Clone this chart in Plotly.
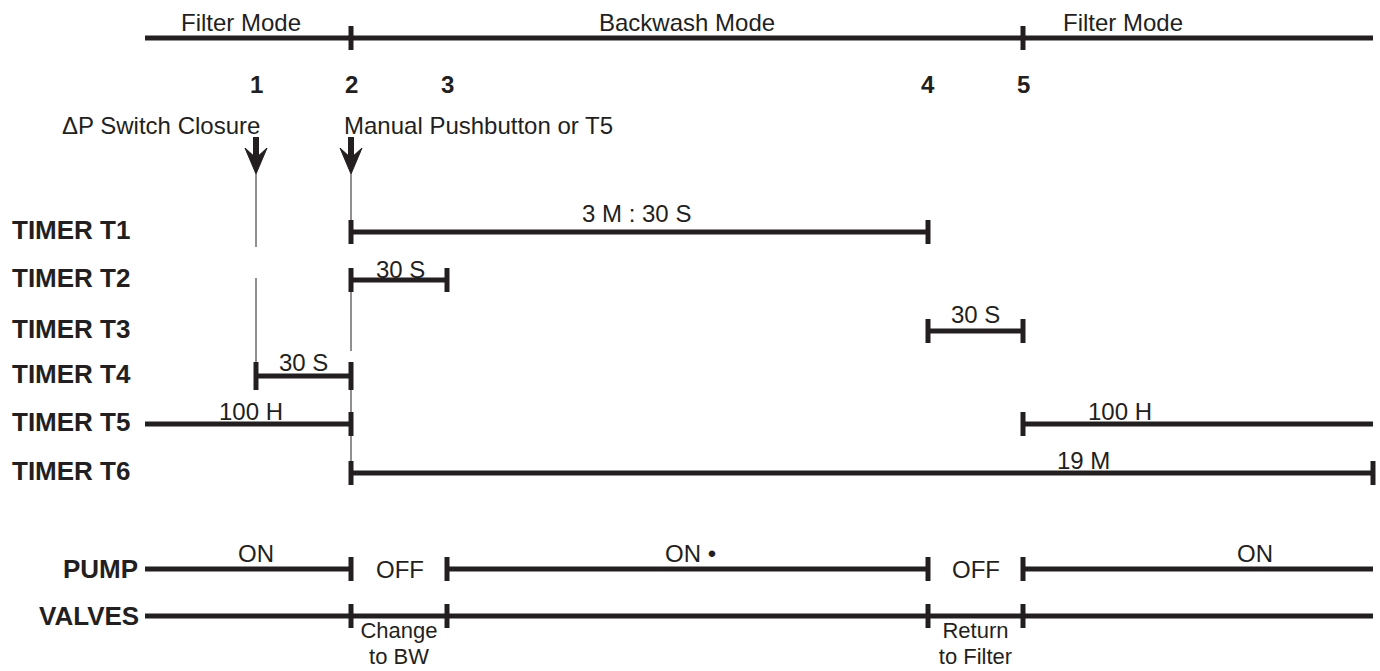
import plotly.graph_objects as go

INK = "#231f20"
FONT = "Liberation Sans, Arial, sans-serif"

# ---------------- data ----------------
t_start, t_end = 145, 1373
event_labels = ["1", "2", "3", "4", "5"]
event_t = [256, 351, 447, 928, 1023]

mode_names = ["Filter Mode", "Backwash Mode", "Filter Mode"]
mode_label_t = [241, 687, 1123]

trigger_texts = ["\u0394P Switch Closure", "Manual Pushbutton or T5"]
trigger_event = [0, 1]

timer_names = ["TIMER T1", "TIMER T2", "TIMER T3", "TIMER T4", "TIMER T5", "TIMER T6"]
# segments: (row index, start, end, tick at start, tick at end, label, label centre)
seg_row = [0, 1, 2, 3, 4, 4, 5]
seg_start = [event_t[1], event_t[1], event_t[3], event_t[0], t_start, event_t[4], event_t[1]]
seg_end = [event_t[3], event_t[2], event_t[4], event_t[1], event_t[1], t_end, t_end]
seg_tick_l = [True, True, True, True, False, True, True]
seg_tick_r = [True, True, True, True, True, False, True]
seg_label = ["3 M : 30 S", "30 S", "30 S", "30 S", "100 H", "100 H", "19 M"]
seg_label_t = [636, 400, 975, 303, 251, 1120, 1083]

pump_states = ["ON", "OFF", "ON \u2022", "OFF", "ON"]
pump_bounds = [t_start, event_t[1], event_t[2], event_t[3], event_t[4], t_end]
pump_label_t = [256, 400, 690, 976, 1255]

valve_ticks = [event_t[1], event_t[2], event_t[3], event_t[4]]
valve_notes = [["Change", "to BW"], ["Return", "to Filter"]]
valve_note_between = [(1, 2), (3, 4)]

# ---------------- layout constants ----------------
Y_MODE = 38
Y_NUM = 84
Y_TRIG = 125
row_y = [232, 280, 331, 376, 424, 473]
row_label_dy = [-19, -11, -17, -14, -13, -13, -13]
Y_PUMP = 569
Y_VALVE = 616
Y_NOTE = [632, 658]
LW = 5
TICK_H = 12
FS = 24
FSB = 26

fig = go.Figure()
shapes = []
annos = []


def hline(x0, x1, y):
    shapes.append(dict(type="line", x0=x0, x1=x1, y0=y, y1=y, xref="x", yref="y",
                       line=dict(color=INK, width=LW)))


def tick(x, y, h=TICK_H):
    shapes.append(dict(type="line", x0=x, x1=x, y0=y - h, y1=y + h, xref="x", yref="y",
                       line=dict(color=INK, width=5)))


def vthin(x, y0, y1):
    shapes.append(dict(type="line", x0=x, x1=x, y0=y0, y1=y1, xref="x", yref="y",
                       line=dict(color=INK, width=1)))


def text(x, y, s, size=FS, bold=False, xanchor="center"):
    annos.append(dict(x=x, y=y, xref="x", yref="y", text=("<b>%s</b>" % s) if bold else s,
                      showarrow=False, xanchor=xanchor, yanchor="middle",
                      font=dict(family=FONT, size=size, color=INK)))


# mode bar
hline(t_start, t_end, Y_MODE)
tick(event_t[1], Y_MODE)
tick(event_t[4], Y_MODE)
for name, lt in zip(mode_names, mode_label_t):
    text(lt, Y_MODE - 16, name)

# event numbers
for lab, t in zip(event_labels, event_t):
    text(t, Y_NUM, lab, size=FS, bold=True)

# triggers and arrows
text(event_t[trigger_event[0]] + 6, Y_TRIG, trigger_texts[0], xanchor="right")
text(event_t[trigger_event[1]] - 9, Y_TRIG, trigger_texts[1], xanchor="left")
for ei in trigger_event:
    x = event_t[ei]
    shapes.append(dict(type="line", x0=x, x1=x, y0=137, y1=158, xref="x", yref="y",
                       line=dict(color=INK, width=6)))
    shapes.append(dict(type="path", xref="x", yref="y",
                       path="M %d,174 L %d,148 L %d,158 L %d,148 Z" % (x, x - 11, x, x + 11),
                       fillcolor=INK, line=dict(color=INK, width=1)))

# thin guide lines
vthin(event_t[0], 174, 247)
vthin(event_t[0], 278, row_y[3])
vthin(event_t[1], 174, row_y[0])
vthin(event_t[1], 290, 351)
vthin(event_t[1], 389, row_y[5])

# timer rows
for i, name in enumerate(timer_names):
    text(10, row_y[i] - 2, name, size=FSB, bold=True, xanchor="left")

for r, s, e, tl, tr, lab, lt in zip(seg_row, seg_start, seg_end, seg_tick_l, seg_tick_r,
                                    seg_label, seg_label_t):
    y = row_y[r]
    hline(s, e, y)
    h = 14 if r == 3 else TICK_H
    if tl:
        tick(s, y, h)
    if tr:
        tick(e, y, h)
    text(lt, y + row_label_dy[r], lab)

# pump
text(140, Y_PUMP, "PUMP", size=FSB, bold=True, xanchor="right")
for k, state in enumerate(pump_states):
    s, e = pump_bounds[k], pump_bounds[k + 1]
    if state.startswith("ON"):
        hline(s, e, Y_PUMP)
        text(pump_label_t[k], Y_PUMP - 16, state)
    else:
        text(pump_label_t[k], Y_PUMP, state)
for t in pump_bounds[1:-1]:
    tick(t, Y_PUMP)

# valves
text(141, Y_VALVE, "VALVES", size=FSB, bold=True, xanchor="right")
hline(t_start, t_end, Y_VALVE)
for t in valve_ticks:
    tick(t, Y_VALVE)
for lines, (a, b) in zip(valve_notes, valve_note_between):
    fig.add_trace(go.Scatter(
        x=[(event_t[a] + event_t[b]) / 2] * len(lines), y=Y_NOTE, mode="text",
        text=lines, textposition="middle center", hoverinfo="skip", cliponaxis=False,
        textfont=dict(family=FONT, size=22, color=INK)))

W, H = 1380, 671
fig.update_layout(
    width=W, height=H,
    margin=dict(l=0, r=0, t=0, b=0),
    paper_bgcolor="white", plot_bgcolor="white",
    xaxis=dict(range=[0, W], visible=False, fixedrange=True),
    yaxis=dict(range=[H, 0], visible=False, fixedrange=True),
    shapes=shapes, annotations=annos, showlegend=False,
)

fig.write_html(
    "out.html",
    config={"displayModeBar": False, "staticPlot": True},
    post_script="document.body.style.margin='0';document.body.style.overflow='hidden';",
)
